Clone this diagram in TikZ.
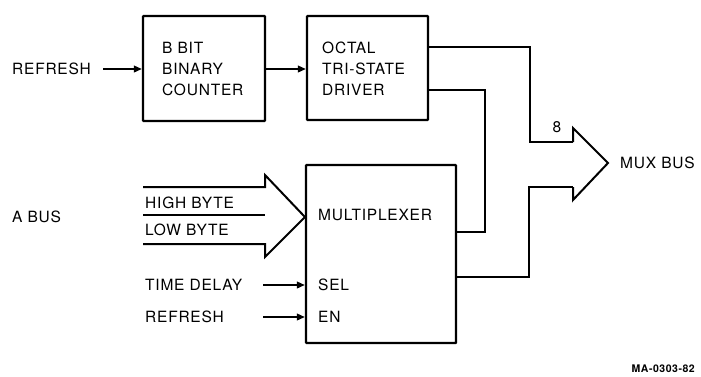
\documentclass[tikz,border=0pt]{standalone}
\usepackage{fontspec}
\setmainfont{TeX Gyre Heros}[LetterSpace=5]
\usetikzlibrary{arrows.meta}
\begin{document}
\begin{tikzpicture}[x=1pt,y=-1pt,
  wire/.style={line width=2pt},
  sig/.style={wire,-{Triangle[length=8pt,width=6.5pt]}},
  blk/.style={draw,line width=2.1pt,inner sep=0,rounded corners=0.5pt},
  lbl/.style={anchor=west,inner sep=0,font=\fontsize{15.5}{18}\selectfont},
  lblc/.style={inner sep=0,font=\fontsize{15.5}{18}\selectfont},
  tag/.style={anchor=east,inner sep=0,font=\fontsize{10.5}{12}\selectfont\bfseries}]
\useasboundingbox (0,0) rectangle (701,376);
% blocks
\node[blk,minimum width=122pt,minimum height=105pt] (cnt) at (204,68.5) {};
\node[blk,minimum width=121pt,minimum height=104pt] (oct) at (367.5,68) {};
\node[blk,minimum width=150pt,minimum height=178pt] (mux) at (381,254) {};
% block texts
\node[lbl] (c1) at (162,48) {B BIT};
\node[lbl] (c2) at (162,69) {BINARY};
\node[lbl] (c3) at (162,90) {COUNTER};
\node[lbl] (o1t) at (322,48) {OCTAL};
\node[lbl] (o2t) at (322,69) {TRI-STATE};
\node[lbl] (o3t) at (322,90) {DRIVER};
\node[lbl] (mt) at (318,215) {MULTIPLEXER};
\node[lbl] (sel) at (318,285) {SEL};
\node[lbl] (en) at (318,317) {EN};
% external labels
\node[lbl] (rf1) at (12,69) {REFRESH};
\node[lbl] (abus) at (12,217) {A BUS};
\node[lbl] (hb) at (145,203) {HIGH BYTE};
\node[lbl] (lb) at (145,230) {LOW BYTE};
\node[lbl] (td) at (145,285) {TIME DELAY};
\node[lbl] (rf2) at (145,317) {REFRESH};
\node[lbl] (mb) at (620,163) {MUX BUS};
\node[lblc] (eight) at (557,127) {8};
\node[tag] (ma) at (695,369) {MA-0303-82};
% signal arrows
\coordinate (r1s) at (103,69);
\draw[sig] (r1s) -- (cnt.west |- r1s);
\draw[sig] (cnt.east |- r1s) -- (oct.west |- r1s);
\coordinate (tds) at (263,285);
\draw[sig] (tds) -- (mux.west |- tds);
\coordinate (r2s) at (263,317);
\draw[sig] (r2s) -- (mux.west |- r2s);
% input bus arrow
\coordinate (ia) at (143,187);
\coordinate (ib) at (265,187);
\coordinate (ic) at (265,175);
\coordinate (itip) at (mux.west |- 0,217);
\coordinate (id) at (265,257);
\coordinate (ie) at (265,244);
\coordinate (iff) at (143,244);
\draw[wire,line join=miter] (ia) -- (ib) -- (ic) -- (itip) -- (id) -- (ie) -- (iff);
\coordinate (im1) at (143,215);
\coordinate (im2) at (265,215);
\draw[wire] (im1) -- (im2);
% output bus arrow
\coordinate (b1) at (573,142);
\coordinate (b2) at (573,128);
\coordinate (btip) at (608,163);
\coordinate (b3) at (573,200);
\coordinate (b4) at (573,187);
\draw[wire,line join=miter] (b1) -- (b2) -- (btip) -- (b3) -- (b4);
% wires
\coordinate (ow1) at (oct.east |- 0,47);
\coordinate (j1) at (530,47);
\draw[wire] (ow1) -- (j1) |- (b1);
\coordinate (ow2) at (oct.east |- 0,90);
\coordinate (j2) at (485,90);
\coordinate (mw1) at (mux.east |- 0,232);
\draw[wire] (ow2) -- (j2) |- (mw1);
\coordinate (mw2) at (mux.east |- 0,277);
\coordinate (j3) at (529,277);
\draw[wire] (mw2) -- (j3) |- (b4);
\end{tikzpicture}
\end{document}
